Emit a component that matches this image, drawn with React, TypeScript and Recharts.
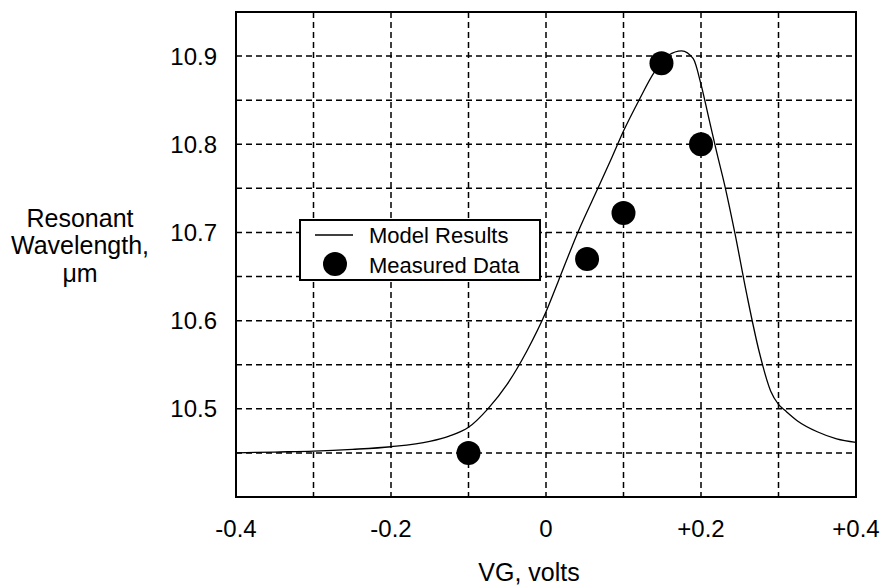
import React from 'react';
import {
  ComposedChart,
  Line,
  Scatter,
  XAxis,
  YAxis,
  CartesianGrid,
  ReferenceArea,
  Label,
} from 'recharts';

// Model curve (VG volts -> resonant wavelength, um)
const modelVG = [
  -0.4, -0.35, -0.3, -0.25, -0.2, -0.15, -0.125, -0.1, -0.075, -0.05, -0.025, 0,
  0.016, 0.042, 0.068, 0.085, 0.1, 0.12, 0.14, 0.158, 0.175, 0.19, 0.2, 0.21,
  0.22, 0.231, 0.244, 0.259, 0.275, 0.29, 0.3, 0.31, 0.325, 0.35, 0.375, 0.4,
];
const modelWL = [
  10.45, 10.451, 10.452, 10.454, 10.457, 10.463, 10.469, 10.479, 10.5, 10.528,
  10.565, 10.61, 10.645, 10.702, 10.752, 10.785, 10.815, 10.85, 10.882, 10.901,
  10.906, 10.897, 10.868, 10.83, 10.792, 10.752, 10.698, 10.63, 10.565, 10.52,
  10.505, 10.497, 10.486, 10.474, 10.466, 10.462,
];

// Measured data
const measVG = [-0.1, 0.053, 0.1, 0.149, 0.2];
const measWL = [10.45, 10.67, 10.722, 10.892, 10.8];

const xTicks = [-0.4, -0.3, -0.2, -0.1, 0, 0.1, 0.2, 0.3, 0.4];
const xTickLabels = ['-0.4', '', '-0.2', '', '0', '', '+0.2', '', '+0.4'];
const yTicks = [10.45, 10.5, 10.55, 10.6, 10.65, 10.7, 10.75, 10.8, 10.85, 10.9];
const yTickLabels = ['', '10.5', '', '10.6', '', '10.7', '', '10.8', '', '10.9'];

const modelData = modelVG.map((x, i) => ({ x, model: modelWL[i] }));
const measData = measVG.map((x, i) => ({ x, meas: measWL[i] }));

const FONT = 'Liberation Sans, Arial, sans-serif';

const XTick = (props: any) => {
  const { x, index } = props;
  const label = xTickLabels[index] ?? '';
  return (
    <text x={x} y={537} textAnchor="middle" fontFamily={FONT} fontSize={24} fill="#000">
      {label}
    </text>
  );
};

const YTick = (props: any) => {
  const { y, index } = props;
  const label = yTickLabels[index] ?? '';
  return (
    <text x={217} y={y + 8.5} textAnchor="end" fontFamily={FONT} fontSize={24} fill="#000">
      {label}
    </text>
  );
};

const Dot = (props: any) => {
  const { cx, cy } = props;
  return <circle cx={cx} cy={cy} r={12} fill="#000" />;
};

const LegendBox = () => (
  <svg
    width={242}
    height={62}
    style={{ position: 'absolute', left: 299, top: 219 }}
  >
    <rect x={1} y={1} width={240} height={60} fill="#fff" stroke="#000" strokeWidth={2} />
    <line x1={16} y1={16} x2={54} y2={16} stroke="#000" strokeWidth={1.3} />
    <circle cx={36} cy={45} r={12} fill="#000" />
    <text x={70} y={24} fontFamily={FONT} fontSize={22} fill="#000">Model Results</text>
    <text x={70} y={54} fontFamily={FONT} fontSize={22} fill="#000">Measured Data</text>
  </svg>
);

const YTitle = () => (
  <text fontFamily={FONT} fontSize={25} fill="#000" textAnchor="middle">
    <tspan x={80} y={227}>Resonant</tspan>
    <tspan x={80} y={254}>Wavelength,</tspan>
    <tspan x={80} y={282}>μm</tspan>
  </text>
);

const XTitle = () => (
  <text x={529} y={581} textAnchor="middle" fontFamily={FONT} fontSize={25} fill="#000">
    VG, volts
  </text>
);

export default function App() {
  return (
    <div style={{ position: 'absolute', left: 0, top: 0, width: 886, height: 586, background: '#fff' }}>
      <ComposedChart
        width={886}
        height={586}
        margin={{ top: 12, right: 30, left: 0, bottom: 0 }}
      >
        <CartesianGrid
          stroke="#000"
          strokeWidth={1.5}
          strokeDasharray="6 4"
          verticalValues={xTicks}
          horizontalValues={yTicks}
        />
        <XAxis
          type="number"
          dataKey="x"
          domain={[-0.4, 0.4]}
          ticks={xTicks}
          tick={<XTick />}
          tickLine={false}
          axisLine={false}
          height={89}
          allowDataOverflow
        >
          <Label content={<XTitle />} />
        </XAxis>
        <YAxis
          type="number"
          domain={[10.4, 10.95]}
          ticks={yTicks}
          tick={<YTick />}
          tickLine={false}
          axisLine={false}
          width={236}
          allowDataOverflow
        >
          <Label content={<YTitle />} />
        </YAxis>
        <ReferenceArea
          x1={-0.4}
          x2={0.4}
          y1={10.4}
          y2={10.95}
          fill="none"
          stroke="#000"
          strokeWidth={2}
          ifOverflow="visible"
        />
        <Line
          data={modelData}
          dataKey="model"
          type="monotone"
          stroke="#000"
          strokeWidth={1.3}
          dot={false}
          isAnimationActive={false}
        />
        <Scatter
          data={measData}
          dataKey="meas"
          shape={<Dot />}
          isAnimationActive={false}
        />
      </ComposedChart>
      <LegendBox />
    </div>
  );
}
